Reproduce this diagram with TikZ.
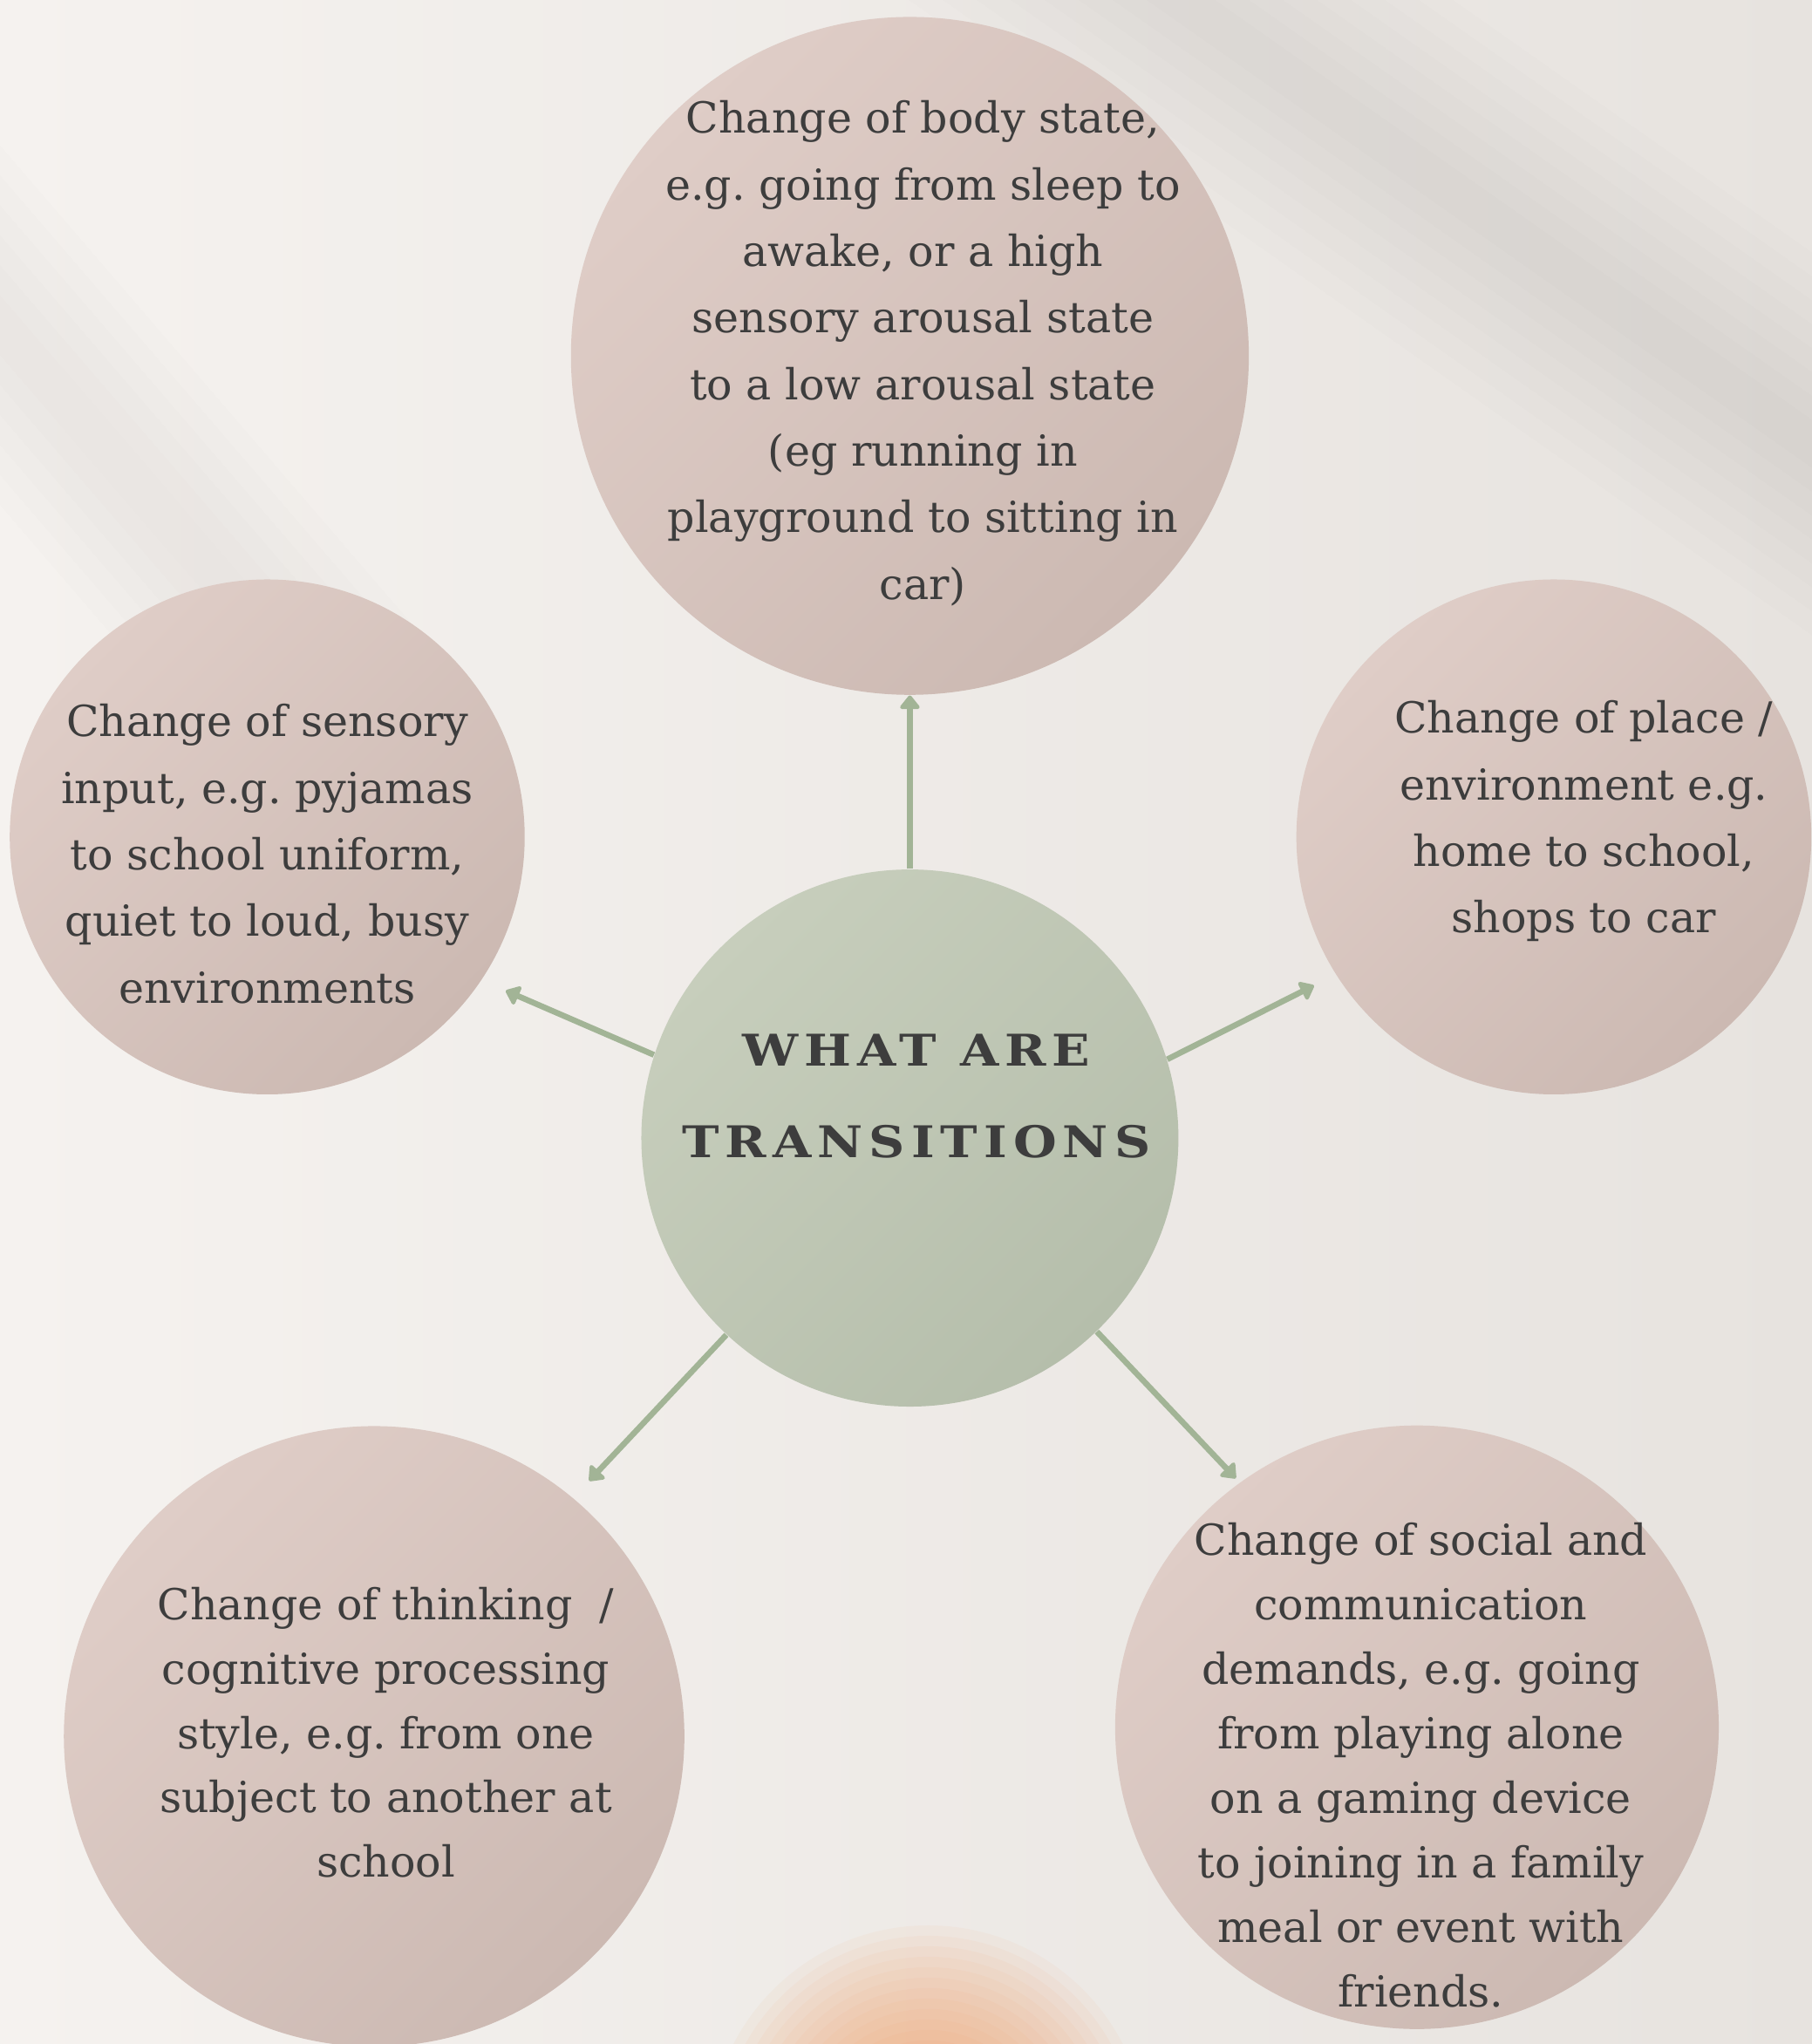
\documentclass[tikz,border=0pt]{standalone}
\usepackage{fontspec}
\setmainfont{DejaVu Serif}
\newfontfamily\titlefont[LetterSpace=14,FakeStretch=1.14]{DejaVu Serif}
\usetikzlibrary{arrows.meta,positioning}

\definecolor{bgleft}{HTML}{F5F2EF}
\definecolor{bgright}{HTML}{E7E3DF}
\definecolor{streakgray}{HTML}{B9B4B1}
\definecolor{blobtone}{HTML}{EE9A5E}
\definecolor{pinklight}{HTML}{DFCDC7}
\definecolor{pinkdark}{HTML}{CCB9B2}
\definecolor{sagelight}{HTML}{C7CEBC}
\definecolor{sagedark}{HTML}{B5BEAB}
\definecolor{arrowsage}{HTML}{A2B496}
\definecolor{inktext}{HTML}{3D3D3D}

\begin{document}
\frenchspacing
\begin{tikzpicture}[x=0.015cm, y=-0.015cm,
    bubble/.style={circle, draw=none, inner sep=0pt,
        top color=pinklight, bottom color=pinkdark, shading angle=45},
    hubbubble/.style={circle, draw=none, inner sep=0pt,
        top color=sagelight, bottom color=sagedark, shading angle=45},
    bubbletext/.style={align=center, text=inktext, inner sep=0pt,
        font=\fontsize{14}{21.8}\selectfont},
    lowertext/.style={bubbletext, font=\fontsize{14}{21.1}\selectfont},
    titletext/.style={align=center, text=inktext, inner sep=0pt,
        font=\titlefont\bfseries\fontsize{14.3}{29.9}\selectfont},
    link/.style={arrowsage, line width=1.9pt,
        -{Triangle[round, width=0.26cm, length=0.17cm]}}
    ]

    % background
    \shade[left color=bgleft, right color=bgright] (0,0) rectangle (1390,1568);
    \useasboundingbox (0,0) rectangle (1390,1568);
    \foreach \w in {30,60,...,240}
        \draw[streakgray, opacity=0.03, line width=\w*0.015cm] (650,-180) -- (1560,460);
    \foreach \w in {30,60,...,180}
        \draw[streakgray, opacity=0.02, line width=\w*0.015cm] (-120,110) -- (250,540);
    \foreach \r in {8,16,...,168}
        \fill[blobtone, opacity=0.06] (712,1645) circle (\r);

    % the circles
    \node[hubbubble, minimum size=6.18cm] (hub) at (698,873) {};
    \node[bubble, minimum size=7.8cm] (bodystate) at (698,273) {};
    \node[bubble, minimum size=5.925cm] (sensory) at (205,642) {};
    \node[bubble, minimum size=5.925cm] (place) at (1192,642) {};
    \node[bubble, minimum size=7.14cm] (thinking) at (287,1332) {};
    \node[bubble, minimum size=6.945cm] (social) at (1087,1325) {};

    % the texts
    \node[titletext] (title) at (703,841) {WHAT ARE\\TRANSITIONS};
    \node[bubbletext] (bodytext) at (708,271) {Change of body state,\\e.g. going from sleep to\\awake, or a high\\sensory arousal state\\to a low arousal state\\(eg running in\\playground to sitting in\\car)};
    \node[bubbletext] (sensorytext) at (205,655) {Change of sensory\\input, e.g. pyjamas\\to school uniform,\\quiet to loud, busy\\environments};
    \node[bubbletext] (placetext) at (1215,630) {Change of place /\\environment e.g.\\home to school,\\shops to car};
    \node[lowertext] (thinkingtext) at (296,1329) {Change of thinking~~/\\cognitive processing\\style, e.g. from one\\subject to another at\\school};
    \node[lowertext] (socialtext) at (1090,1354) {Change of social and\\communication\\demands, e.g. going\\from playing alone\\on a gaming device\\to joining in a family\\meal or event with\\friends.};

    % arrow tips
    \coordinate (sensorytip) at (388,760);
    \coordinate (placetip) at (1008,756);
    \coordinate (thinkingtip) at (452,1136);
    \coordinate (socialtip) at (948,1134);

    % the arrows
    \draw[link] (hub.north) -- (bodystate.south);
    \draw[link] (hub.162.8) -- (sensorytip);
    \draw[link] (hub.17.7) -- (placetip);
    \draw[link] (hub.227) -- (thinkingtip);
    \draw[link] (hub.314.2) -- (socialtip);
\end{tikzpicture}
\end{document}
